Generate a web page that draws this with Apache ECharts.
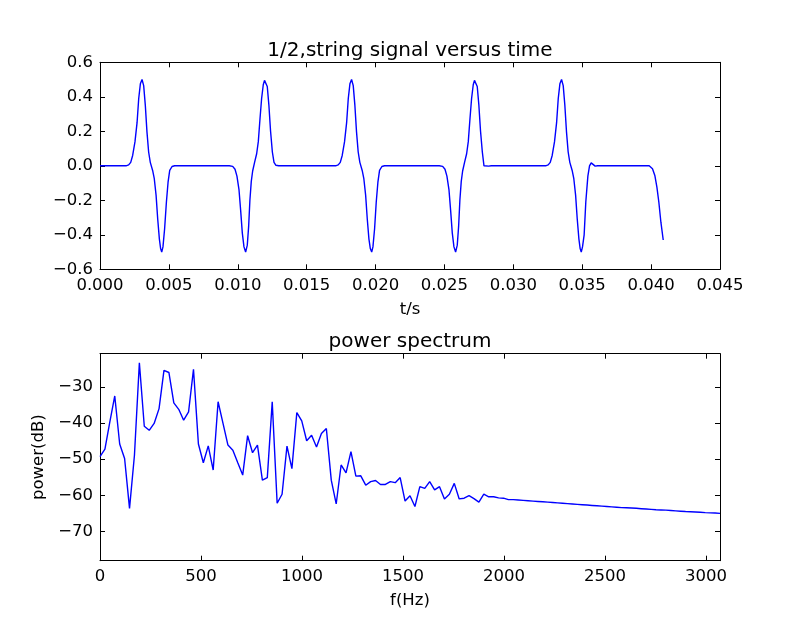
<!DOCTYPE html>
<html>
<head>
<meta charset="utf-8">
<script src="https://cdn.jsdelivr.net/npm/echarts@6/dist/echarts.min.js"></script>
<style>
html,body{margin:0;padding:0;background:#fff;}
#chart{width:800px;height:623px;}
</style>
</head>
<body>
<div id="chart"></div>
<script>
// ---------- data: signal versus time ([t (s), amplitude]) ----------
const sigStart = [[0, 0], [0.0015, 0]];
const pulseA1 = [[0.00189,0],[0.00208,0.005],[0.00223,0.02],[0.00237,0.06],[0.00254,0.14],[0.00269,0.25],[0.00281,0.39],[0.00293,0.475],[0.00305,0.5],[0.00317,0.465],[0.00329,0.35],[0.00341,0.195],[0.00353,0.08],[0.00365,0.02],[0.00382,-0.027],[0.00394,-0.075],[0.00407,-0.17],[0.00419,-0.31],[0.00431,-0.425],[0.0044,-0.48],[0.00448,-0.5],[0.00457,-0.47],[0.00469,-0.365],[0.00482,-0.21],[0.00494,-0.095],[0.00506,-0.027],[0.00523,-0.004],[0.00542,0]];
const pulseB1 = [[0.00938,0],[0.00963,-0.003],[0.0098,-0.02],[0.00994,-0.06],[0.01009,-0.14],[0.01021,-0.26],[0.01033,-0.39],[0.01045,-0.47],[0.01057,-0.5],[0.01069,-0.46],[0.01079,-0.35],[0.01088,-0.2],[0.01098,-0.09],[0.01108,-0.03],[0.01122,0.02],[0.01137,0.07],[0.01149,0.14],[0.01161,0.27],[0.01173,0.39],[0.01185,0.47],[0.01194,0.495],[0.01202,0.5],[0.01214,0.46],[0.01226,0.35],[0.01238,0.2],[0.01251,0.08],[0.01263,0.02],[0.01277,0.003],[0.01297,0]];
const pulseA2 = [[0.0171,0],[0.01729,0.005],[0.01744,0.02],[0.01758,0.06],[0.01775,0.14],[0.0179,0.25],[0.01802,0.39],[0.01814,0.475],[0.01826,0.5],[0.01838,0.465],[0.0185,0.35],[0.01862,0.195],[0.01874,0.08],[0.01886,0.02],[0.01903,-0.027],[0.01915,-0.075],[0.01928,-0.17],[0.0194,-0.31],[0.01952,-0.425],[0.01962,-0.48],[0.01972,-0.5],[0.01981,-0.47],[0.01993,-0.365],[0.02005,-0.21],[0.02017,-0.095],[0.02029,-0.027],[0.02046,-0.004],[0.02065,0]];
const pulseB2 = [[0.02462,0],[0.02487,-0.003],[0.02504,-0.02],[0.02518,-0.06],[0.02533,-0.14],[0.02545,-0.26],[0.02557,-0.39],[0.02569,-0.47],[0.02581,-0.5],[0.02593,-0.46],[0.02603,-0.35],[0.02612,-0.2],[0.02622,-0.09],[0.02632,-0.03],[0.02646,0.02],[0.02661,0.07],[0.02673,0.14],[0.02685,0.27],[0.02697,0.39],[0.02709,0.47],[0.02718,0.495],[0.02726,0.5],[0.02738,0.46],[0.0275,0.35],[0.02762,0.2],[0.02775,0.08],[0.02787,0.0],[0.02801,-0.008],[0.02821,-0.002],[0.0284,0]];
const pulseA3 = [[0.03234,0],[0.03253,0.005],[0.03268,0.02],[0.03282,0.06],[0.03299,0.14],[0.03314,0.25],[0.03326,0.39],[0.03338,0.475],[0.0335,0.5],[0.03362,0.465],[0.03374,0.35],[0.03386,0.195],[0.03398,0.08],[0.0341,0.02],[0.03427,-0.027],[0.03439,-0.075],[0.03452,-0.17],[0.03464,-0.31],[0.03476,-0.425],[0.03485,-0.48],[0.03493,-0.5],[0.03502,-0.47],[0.03514,-0.4],[0.03526,-0.21],[0.03541,-0.06],[0.03553,0.0],[0.03565,0.017],[0.03579,0.006],[0.03594,-0.002],[0.03611,0]];
const pulseB3 = [[0.03986,0],[0.0401,-0.017],[0.04027,-0.056],[0.04042,-0.124],[0.04056,-0.21],[0.04071,-0.327],[0.04088,-0.43]];

// ---------- data: power spectrum ----------
const FREQ_STEP = 24.36; // Hz between spectrum bins
const powerDb = [
 -49.3,-47.2,-39.7,-32.5,-45.8,-49.8,-63.6,-48.9,-23.3,-40.9,
 -42.0,-40.1,-36.0,-25.4,-26.0,-34.4,-36.2,-39.2,-36.9,-25.1,
 -45.8,-51.0,-46.3,-53.0,-34.1,-40.1,-46.1,-47.5,-51.0,-54.4,
 -43.5,-48.2,-46.1,-55.8,-55.1,-34.1,-62.2,-59.7,-46.4,-52.6,
 -37.1,-39.4,-44.9,-43.4,-46.6,-42.9,-41.5,-55.8,-62.4,-51.6,
 -53.8,-47.9,-54.7,-54.6,-57.2,-56.2,-55.9,-57.0,-57.0,-56.2,
 -56.5,-55.1,-61.6,-60.1,-63.1,-57.6,-58.1,-56.2,-58.5,-57.6,
 -61.0,-59.7,-56.7,-61.0,-60.8,-60.1,-60.9,-61.9,-59.7,-60.4,
 -60.4,-60.7,-60.8,-61.2,-61.2,-61.3,-61.4,-61.5,-61.6,-61.7,
 -61.8,-61.9,-62.0,-62.1,-62.2,-62.3,-62.4,-62.5,-62.6,-62.7,
 -62.8,-62.9,-63.0,-63.1,-63.2,-63.3,-63.4,-63.45,-63.5,-63.6,
 -63.7,-63.8,-63.9,-64.0,-64.05,-64.1,-64.2,-64.3,-64.4,-64.5,
 -64.55,-64.6,-64.7,-64.8,-64.85,-64.9,-65.0
];

// ---------- ticks ----------
const timeTicks = [0,0.005,0.01,0.015,0.02,0.025,0.03,0.035,0.04,0.045];
const ampTicks = [-0.6,-0.4,-0.2,0,0.2,0.4,0.6];
const freqTicks = [0,500,1000,1500,2000,2500,3000];
const dbTicks = [-70,-60,-50,-40,-30];

const signal = [].concat(sigStart, pulseA1, pulseB1, pulseA2, pulseB2, pulseA3, pulseB3);
const spectrum = powerDb.map((v, i) => [i * FREQ_STEP, v]);

const FONT = 'DejaVu Sans';
const minus = s => String(s).replace('-', '\u2212');

function axisBase(extra) {
  return Object.assign({
    type: 'value',
    axisLine: { show: true, onZero: false, lineStyle: { color: '#000', width: 1 } },
    splitLine: { show: false },
    axisTick: { show: true, inside: true, length: 5, lineStyle: { color: '#000', width: 1 } },
    axisLabel: { show: true, color: '#000', fontFamily: FONT, fontSize: 16.5 },
    nameTextStyle: { color: '#000', fontFamily: FONT, fontSize: 16.5 }
  }, extra);
}

const G1 = { left: 100, top: 62.3, width: 620, height: 207 };
const G2 = { left: 100, top: 353.7, width: 620, height: 207 };

const xTime = (pos, label) => axisBase({
  gridIndex: 0, position: pos, min: 0, max: 0.045,
  axisTick: { show: true, inside: true, length: 5, customValues: timeTicks, lineStyle: { color: '#000', width: 1 } },
  axisLabel: { show: label, color: '#000', fontFamily: FONT, fontSize: 16.5, margin: 8, customValues: timeTicks, formatter: v => v.toFixed(3) },
  name: label ? 't/s' : '', nameLocation: 'middle', nameGap: 32
});
const yAmp = (pos, label) => axisBase({
  gridIndex: 0, position: pos, min: -0.6, max: 0.6,
  axisTick: { show: true, inside: true, length: 5, customValues: ampTicks, lineStyle: { color: '#000', width: 1 } },
  axisLabel: { show: label, color: '#000', fontFamily: FONT, fontSize: 16.5, margin: 7, customValues: ampTicks, formatter: v => minus(v.toFixed(1)) }
});
const xFreq = (pos, label) => axisBase({
  gridIndex: 1, position: pos, min: 0, max: 126 * FREQ_STEP,
  axisTick: { show: true, inside: true, length: 5, customValues: freqTicks, lineStyle: { color: '#000', width: 1 } },
  axisLabel: { show: label, color: '#000', fontFamily: FONT, fontSize: 16.5, margin: 8, customValues: freqTicks, formatter: v => String(Math.round(v)) },
  name: label ? 'f(Hz)' : '', nameLocation: 'middle', nameGap: 32
});
const yDb = (pos, label) => axisBase({
  gridIndex: 1, position: pos, min: -78.1, max: -20.8,
  axisTick: { show: true, inside: true, length: 5, customValues: dbTicks, lineStyle: { color: '#000', width: 1 } },
  axisLabel: { show: label, color: '#000', fontFamily: FONT, fontSize: 16.5, margin: 7, customValues: dbTicks, formatter: v => minus(Math.round(v)) },
  name: label ? 'power(dB)' : '', nameLocation: 'middle', nameGap: 41
});

const chart = echarts.init(document.getElementById('chart'), null, { renderer: 'canvas' });
chart.setOption({
  animation: false,
  backgroundColor: '#fff',
  title: [
    { text: '1/2,string signal versus time', left: 405, top: 36, textAlign: 'center',
      textStyle: { color: '#000', fontFamily: FONT, fontSize: 20, fontWeight: 'normal' } },
    { text: 'power spectrum', left: 405, top: 327, textAlign: 'center',
      textStyle: { color: '#000', fontFamily: FONT, fontSize: 20, fontWeight: 'normal' } }
  ],
  grid: [G1, G2],
  xAxis: [xTime('bottom', true), xTime('top', false), xFreq('bottom', true), xFreq('top', false)],
  yAxis: [yAmp('left', true), yAmp('right', false), yDb('left', true), yDb('right', false)],
  series: [
    { type: 'line', xAxisIndex: 0, yAxisIndex: 0, data: signal, showSymbol: false,
      lineStyle: { color: '#0000ff', width: 1.4 }, clip: true },
    { type: 'line', xAxisIndex: 2, yAxisIndex: 2, data: spectrum, showSymbol: false,
      lineStyle: { color: '#0000ff', width: 1.4 }, clip: true }
  ]
});
</script>
</body>
</html>
